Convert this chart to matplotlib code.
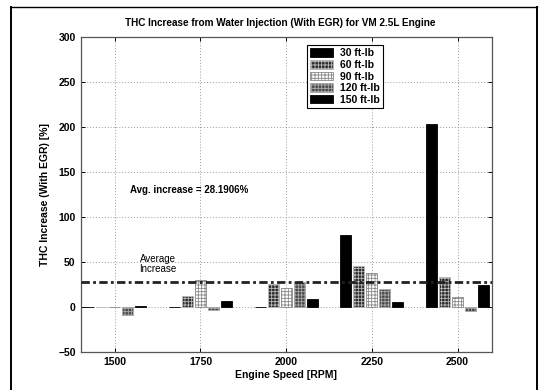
import matplotlib
matplotlib.use("Agg")
import matplotlib.pyplot as plt
from matplotlib.lines import Line2D
import numpy as np

plt.rcParams["font.family"] = ["Liberation Sans", "DejaVu Sans"]
plt.rcParams["hatch.linewidth"] = 0.6

# engine speeds and THC increase per load [%]
speeds = [1500, 1750, 2000, 2250, 2500]
loads = ["30 ft-lb", "60 ft-lb", "90 ft-lb", "120 ft-lb", "150 ft-lb"]
thc_30 = [0, 0, 0, 80, 203]
thc_60 = [0, 12, 26, 45, 33]
thc_90 = [0, 30, 21, 38, 11]
thc_120 = [-9, -3, 28, 20, -4]
thc_150 = [1, 7, 9, 6, 24]
avg_increase = 28.1906

series = [thc_30, thc_60, thc_90, thc_120, thc_150]
faces = ["black", "#2a2a2a", "white", "#4a4a4a", "black"]
hatches = [None, "+++++", "+++++", "+++++", None]
hatch_cols = ["black", "#bbbbbb", "#888888", "#aaaaaa", "black"]

fig = plt.figure(figsize=(5.44, 3.9), dpi=100)
ax = fig.add_axes([0.148, 0.0975, 0.756, 0.808])

step = 38
width = 32
x = np.array(speeds)
for i, vals in enumerate(series):
    ax.bar(x + (i - 2) * step, vals, width=width, color=faces[i],
           hatch=hatches[i], edgecolor=hatch_cols[i], linewidth=0.6,
           label=loads[i], zorder=3)

ax.axhline(avg_increase, color="#222222", lw=2.0, ls=(0, (3, 1.2, 1, 1.2)), zorder=4)

ax.text(1545, 130, "Avg. increase = %.4f%%" % avg_increase, fontsize=7,
        fontweight="bold", va="center", ha="left")
ax.text(1625, 48, "Average\nIncrease", fontsize=7, ha="center", va="center",
        linespacing=1.0)

ax.set_xlim(1400, 2600)
ax.set_ylim(-50, 300)
ax.set_xticks(speeds)
ax.set_yticks(np.arange(-50, 301, 50))
ax.grid(True, ls=(0, (1, 2)), color="#999999", lw=0.7, zorder=0)
ax.tick_params(direction="in", top=True, right=True, length=3,
               labelsize=7.5, width=0.7)
for lab in ax.get_xticklabels() + ax.get_yticklabels():
    lab.set_fontweight("bold")
for s in ax.spines.values():
    s.set_color("#555555")
    s.set_linewidth(0.9)

ax.set_title("THC Increase from Water Injection (With EGR) for VM 2.5L Engine",
             fontsize=7.2, fontweight="bold", pad=8, x=0.485)
ax.set_xlabel("Engine Speed [RPM]", fontsize=7.5, fontweight="bold", labelpad=2)
ax.set_ylabel("THC Increase (With EGR) [%]", fontsize=7.5, fontweight="bold",
              labelpad=6)

leg = ax.legend(loc="upper left", bbox_to_anchor=(0.55, 0.975), fontsize=7.5,
                fancybox=False, edgecolor="black", framealpha=1,
                handlelength=2.2, handleheight=0.9, handletextpad=0.6,
                labelspacing=0.15, borderpad=0.35, borderaxespad=0)
for t in leg.get_texts():
    t.set_fontweight("bold")
leg.get_frame().set_linewidth(0.8)

# page frame around the figure
fig.add_artist(Line2D([0.021, 0.021], [0.0, 0.982], color="black", lw=1.4))
fig.add_artist(Line2D([0.021, 0.987], [0.982, 0.982], color="black", lw=1.0))
fig.add_artist(Line2D([0.987, 0.987], [0.0, 0.982], color="black", lw=1.4))

fig.savefig("out.png", dpi=100)
